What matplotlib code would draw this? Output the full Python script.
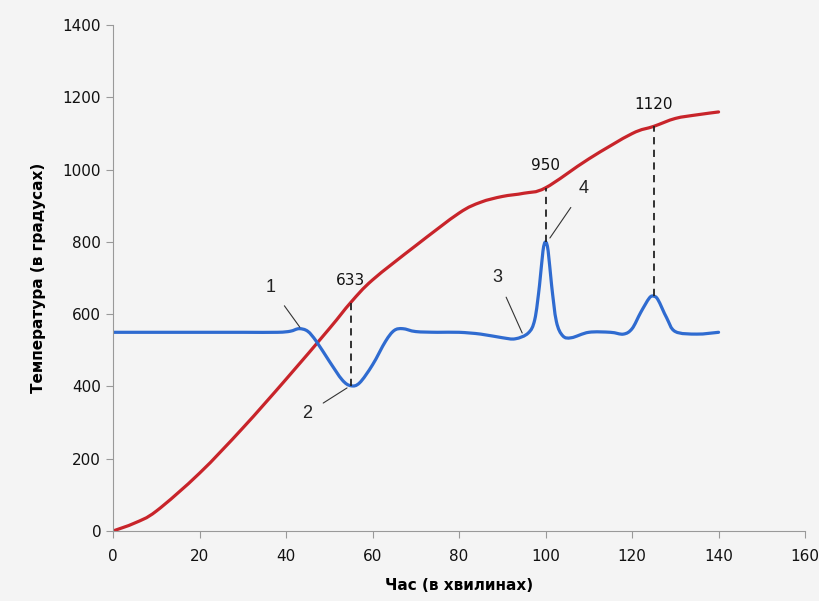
import numpy as np
import matplotlib.pyplot as plt
from matplotlib.path import Path
from matplotlib.patches import PathPatch

# red curve: furnace temperature
red_x = [0, 5, 10, 20, 30, 40, 50, 55, 60, 70, 80, 85, 90, 95, 100, 110, 120, 125, 130, 135, 140]
red_y = [0, 22, 55, 160, 285, 420, 560, 633, 695, 790, 880, 910, 926, 935, 950, 1030, 1100, 1120, 1142, 1152, 1160]

# blue curve: differential signal
blue_x = [0, 10, 20, 30, 38, 41, 43, 45, 47, 50, 53, 55, 57, 60, 63, 65, 67, 70, 75, 80, 85, 90, 93, 96,
          97.5, 98.6, 99.4, 100, 100.6, 101.4, 102.5, 104, 106, 110, 115, 118, 120, 122, 124, 125, 126, 128,
          130, 135, 140]
blue_y = [550, 550, 550, 550, 550, 553, 560, 553, 525, 470, 418, 402, 410, 460, 525, 555, 560, 552, 550, 550,
          545, 535, 532, 548, 585, 680, 775, 800, 775, 680, 580, 540, 535, 550, 550, 545, 560, 605, 645, 650, 640,
          590, 552, 545, 550]

marks_x = [55, 100, 125]
marks_top = [633, 950, 1120]
marks_bottom = [402, 800, 650]
mark_labels = ['633', '950', '1120']

num_labels = ['1', '2', '3', '4']
num_text_xy = [(36.5, 675), (44.9, 326), (88.8, 703), (108.9, 949)]
num_point_xy = [(43.2, 564), (54.1, 396), (94.6, 548), (101, 811)]


def smooth_line(ax, xs, ys, **kw):
    # Excel-style smoothed line: Catmull-Rom segments drawn as cubic Bezier curves
    p = np.column_stack([xs, ys]).astype(float)
    p_ext = np.vstack([p[0], p, p[-1]])
    verts = [p[0]]
    codes = [Path.MOVETO]
    for i in range(1, len(p_ext) - 2):
        p0, p1, p2, p3 = p_ext[i - 1], p_ext[i], p_ext[i + 1], p_ext[i + 2]
        verts += [p1 + (p2 - p0) / 6, p2 - (p3 - p1) / 6, p2]
        codes += [Path.CURVE4] * 3
    ax.add_patch(PathPatch(Path(verts, codes), fill=False, capstyle='round', joinstyle='round', **kw))


bg = '#f4f4f4'
fig = plt.figure(figsize=(8.19, 6.01), dpi=100, facecolor=bg)
ax = fig.add_axes([0.138, 0.1165, 0.845, 0.8415], facecolor=bg)

smooth_line(ax, red_x, red_y, edgecolor='#c8242a', lw=2.3)
smooth_line(ax, blue_x, blue_y, edgecolor='#2f6bd0', lw=2.3)

for x, y0, y1, s in zip(marks_x, marks_bottom, marks_top, mark_labels):
    ax.plot([x, x], [y0, y1], color='#222222', lw=1.3, ls=(0, (4, 3)))
    ax.text(x, y1 + 40, s, ha='center', va='bottom', fontsize=11, color='#111111')

for s, (tx, ty), (px, py) in zip(num_labels, num_text_xy, num_point_xy):
    ax.annotate(s, xy=(px, py), xytext=(tx, ty), ha='center', va='center', fontsize=13,
                family='Liberation Sans', color='#222222',
                arrowprops=dict(arrowstyle='-', color='#333333', lw=0.8, shrinkA=7, shrinkB=0))

ax.set_xlim(0, 160)
ax.set_ylim(0, 1400)
ax.set_xticks(np.arange(0, 161, 20))
ax.set_yticks(np.arange(0, 1401, 200))
for side in ['top', 'right']:
    ax.spines[side].set_visible(False)
for side in ['left', 'bottom']:
    ax.spines[side].set_color('#999999')
ax.tick_params(axis='both', colors='#999999', labelcolor='#111111', labelsize=11, length=5)
ax.tick_params(axis='x', pad=8)

ax.set_xlabel('Час (в хвилинах)', fontsize=11, fontweight='bold', labelpad=10)
ax.set_ylabel('Температура (в градусах)', fontsize=11, fontweight='bold', labelpad=12)

fig.savefig('out.png', dpi=100, facecolor=bg)
